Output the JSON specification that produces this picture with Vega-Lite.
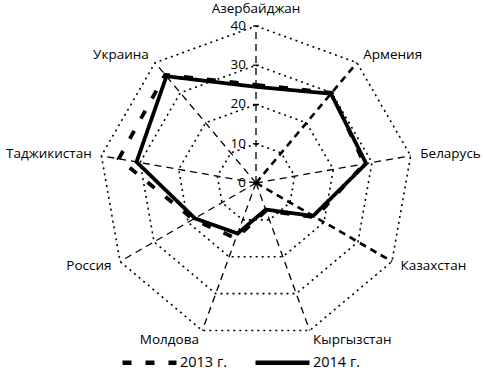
{
  "$schema": "https://vega.github.io/schema/vega-lite/v6.json",
  "width": 483,
  "height": 370,
  "autosize": {"type": "none"},
  "padding": 0,
  "background": "white",
  "config": {"view": {"stroke": null}, "text": {"font": "Open Sans", "fontSize": 13.5, "color": "black"}},
  "datasets": {
    "cats": [
      {"cat": "Азербайджан", "i": 0, "levels": [0, 10, 20, 30, 40]},
      {"cat": "Армения", "i": 1, "levels": [0, 10, 20, 30, 40]},
      {"cat": "Беларусь", "i": 2, "levels": [0, 10, 20, 30, 40]},
      {"cat": "Казахстан", "i": 3, "levels": [0, 10, 20, 30, 40]},
      {"cat": "Кыргызстан", "i": 4, "levels": [0, 10, 20, 30, 40]},
      {"cat": "Молдова", "i": 5, "levels": [0, 10, 20, 30, 40]},
      {"cat": "Россия", "i": 6, "levels": [0, 10, 20, 30, 40]},
      {"cat": "Таджикистан", "i": 7, "levels": [0, 10, 20, 30, 40]},
      {"cat": "Украина", "i": 8, "levels": [0, 10, 20, 30, 40]}
    ],
    "vals": [
      {"cat": "Азербайджан", "i": 0, "year": "2013 г.", "v": 25},
      {"cat": "Армения", "i": 1, "year": "2013 г.", "v": 30},
      {"cat": "Беларусь", "i": 2, "year": "2013 г.", "v": 28},
      {"cat": "Казахстан", "i": 3, "year": "2013 г.", "v": 17.5},
      {"cat": "Кыргызстан", "i": 4, "year": "2013 г.", "v": 7.5},
      {"cat": "Молдова", "i": 5, "year": "2013 г.", "v": 15},
      {"cat": "Россия", "i": 6, "year": "2013 г.", "v": 18.5},
      {"cat": "Таджикистан", "i": 7, "year": "2013 г.", "v": 35.5},
      {"cat": "Украина", "i": 8, "year": "2013 г.", "v": 36},
      {"cat": "Азербайджан", "i": 0, "year": "2014 г.", "v": 24.5},
      {"cat": "Армения", "i": 1, "year": "2014 г.", "v": 29.7},
      {"cat": "Беларусь", "i": 2, "year": "2014 г.", "v": 28.5},
      {"cat": "Казахстан", "i": 3, "year": "2014 г.", "v": 16.8},
      {"cat": "Кыргызстан", "i": 4, "year": "2014 г.", "v": 7.2},
      {"cat": "Молдова", "i": 5, "year": "2014 г.", "v": 13.7},
      {"cat": "Россия", "i": 6, "year": "2014 г.", "v": 18},
      {"cat": "Таджикистан", "i": 7, "year": "2014 г.", "v": 30.9},
      {"cat": "Украина", "i": 8, "year": "2014 г.", "v": 35.5}
    ]
  },
  "layer": [
    {
      "data": {"name": "cats"},
      "transform": [
        {"flatten": ["levels"], "as": ["r"]},
        {"calculate": "datum.i*2*PI/9", "as": "a"},
        {"calculate": "datum.r*sin(datum.a)", "as": "x"},
        {"calculate": "datum.r*cos(datum.a)", "as": "y"}
      ],
      "mark": {"type": "line", "color": "black", "strokeDash": [7, 5]},
      "encoding": {
        "x": {"field": "x", "type": "quantitative", "scale": {"domain": [-65.22, 57.83], "nice": false, "zero": false}, "axis": null},
        "y": {"field": "y", "type": "quantitative", "scale": {"domain": [-47.64, 46.62], "nice": false, "zero": false}, "axis": null},
        "detail": {"field": "cat"},
        "order": {"field": "r", "type": "quantitative"},
        "strokeWidth": {"condition": {"test": "datum.cat==='Армения'||datum.cat==='Казахстан'", "value": 2.6}, "value": 1.3}
      }
    },
    {
      "data": {"name": "cats"},
      "transform": [
        {"flatten": ["levels"], "as": ["r"]},
        {"filter": "datum.r>0"},
        {"calculate": "datum.i*2*PI/9", "as": "a"},
        {"calculate": "datum.r*sin(datum.a)", "as": "x"},
        {"calculate": "datum.r*cos(datum.a)", "as": "y"}
      ],
      "mark": {"type": "line", "color": "black", "strokeDash": [2, 4], "strokeWidth": 1.6, "interpolate": "linear-closed"},
      "encoding": {
        "x": {"field": "x", "type": "quantitative", "scale": {"domain": [-65.22, 57.83], "nice": false, "zero": false}, "axis": null},
        "y": {"field": "y", "type": "quantitative", "scale": {"domain": [-47.64, 46.62], "nice": false, "zero": false}, "axis": null},
        "detail": {"field": "r"},
        "order": {"field": "i", "type": "quantitative"}
      }
    },
    {
      "data": {"name": "cats"},
      "transform": [
        {"filter": "datum.i==0"},
        {"flatten": ["levels"], "as": ["r"]},
        {"calculate": "0", "as": "x"}
      ],
      "mark": {"type": "point", "shape": "M-1,0H1", "size": 36, "filled": false, "color": "black", "strokeWidth": 1.3, "opacity": 1},
      "encoding": {
        "x": {"field": "x", "type": "quantitative", "scale": {"domain": [-65.22, 57.83], "nice": false, "zero": false}, "axis": null},
        "y": {"field": "r", "type": "quantitative", "scale": {"domain": [-47.64, 46.62], "nice": false, "zero": false}, "axis": null}
      }
    },
    {
      "data": {"name": "vals"},
      "transform": [
        {"calculate": "datum.i*2*PI/9", "as": "a"},
        {"calculate": "datum.v*sin(datum.a)", "as": "x"},
        {"calculate": "datum.v*cos(datum.a)", "as": "y"}
      ],
      "mark": {"type": "line", "color": "black", "strokeWidth": 3.8, "interpolate": "linear-closed"},
      "encoding": {
        "x": {"field": "x", "type": "quantitative", "scale": {"domain": [-65.22, 57.83], "nice": false, "zero": false}, "axis": null},
        "y": {"field": "y", "type": "quantitative", "scale": {"domain": [-47.64, 46.62], "nice": false, "zero": false}, "axis": null},
        "order": {"field": "i", "type": "quantitative"},
        "strokeDash": {
          "field": "year", "type": "nominal",
          "scale": {"domain": ["2013 г.", "2014 г."], "range": [[9, 14], [1, 0]]},
          "legend": {
            "title": null, "orient": "none", "legendX": 138, "legendY": 351,
            "direction": "horizontal", "symbolType": "M-3,0H3", "symbolSize": 324,
            "symbolStrokeWidth": 4.5, "symbolStrokeColor": "black", "symbolFillColor": "transparent",
            "labelFontSize": 14.5, "labelFont": "Open Sans", "labelColor": "black",
            "labelOffset": 19, "columnPadding": 19, "padding": 0
          }
        }
      }
    },
    {
      "data": {"name": "cats"},
      "transform": [
        {"filter": "datum.i>=1 && datum.i<=4"},
        {"calculate": "datum.i*2*PI/9", "as": "a"},
        {"calculate": "42.5*sin(datum.a)", "as": "x"},
        {"calculate": "42.5*cos(datum.a)", "as": "y"}
      ],
      "mark": {"type": "text", "align": "left", "baseline": "middle"},
      "encoding": {
        "x": {"field": "x", "type": "quantitative", "scale": {"domain": [-65.22, 57.83], "nice": false, "zero": false}, "axis": null},
        "y": {"field": "y", "type": "quantitative", "scale": {"domain": [-47.64, 46.62], "nice": false, "zero": false}, "axis": null},
        "text": {"field": "cat"}
      }
    },
    {
      "data": {"name": "cats"},
      "transform": [
        {"filter": "datum.i>=5"},
        {"calculate": "datum.i*2*PI/9", "as": "a"},
        {"calculate": "42.5*sin(datum.a)", "as": "x"},
        {"calculate": "42.5*cos(datum.a)", "as": "y"}
      ],
      "mark": {"type": "text", "align": "right", "baseline": "middle"},
      "encoding": {
        "x": {"field": "x", "type": "quantitative", "scale": {"domain": [-65.22, 57.83], "nice": false, "zero": false}, "axis": null},
        "y": {"field": "y", "type": "quantitative", "scale": {"domain": [-47.64, 46.62], "nice": false, "zero": false}, "axis": null},
        "text": {"field": "cat"}
      }
    },
    {
      "data": {"name": "cats"},
      "transform": [
        {"filter": "datum.i==0"},
        {"calculate": "0", "as": "x"},
        {"calculate": "44.3", "as": "y"}
      ],
      "mark": {"type": "text", "align": "center", "baseline": "middle"},
      "encoding": {
        "x": {"field": "x", "type": "quantitative", "scale": {"domain": [-65.22, 57.83], "nice": false, "zero": false}, "axis": null},
        "y": {"field": "y", "type": "quantitative", "scale": {"domain": [-47.64, 46.62], "nice": false, "zero": false}, "axis": null},
        "text": {"field": "cat"}
      }
    },
    {
      "data": {"name": "cats"},
      "transform": [
        {"filter": "datum.i==0"},
        {"flatten": ["levels"], "as": ["r"]},
        {"calculate": "0", "as": "x"}
      ],
      "mark": {"type": "text", "align": "right", "baseline": "middle", "dx": -10},
      "encoding": {
        "x": {"field": "x", "type": "quantitative", "scale": {"domain": [-65.22, 57.83], "nice": false, "zero": false}, "axis": null},
        "y": {"field": "r", "type": "quantitative", "scale": {"domain": [-47.64, 46.62], "nice": false, "zero": false}, "axis": null},
        "text": {"field": "r"}
      }
    }
  ]
}
